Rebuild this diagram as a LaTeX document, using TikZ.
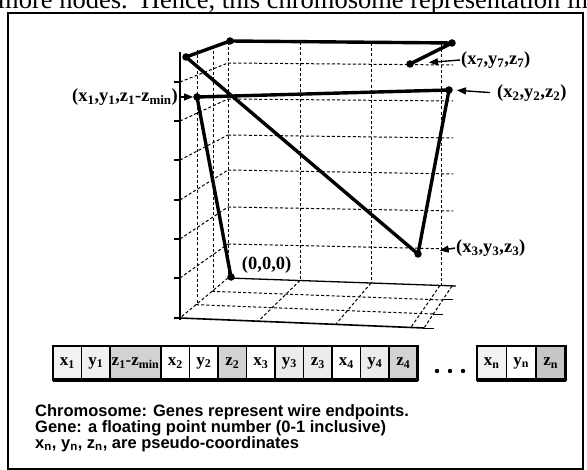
\documentclass[tikz,border=0pt]{standalone}
\usepackage{fontspec}
\setmainfont{Liberation Serif}
\setsansfont{Liberation Sans}
\usetikzlibrary{positioning,arrows.meta}

\begin{document}
\begin{tikzpicture}[x=1bp, y=-1bp,
  wire/.style={line width=3.4bp, line cap=round, line join=round},
  gridline/.style={line width=1bp, dash pattern=on 3bp off 2.2bp},
  dot/.style={circle, fill=black, inner sep=0pt, minimum size=7.5bp},
  pt/.style={font=\fontsize{18.5bp}{20bp}\selectfont\bfseries, inner sep=1bp},
  gene/.style={draw, line width=1.6bp, outer sep=0pt, inner sep=0pt, minimum width=28.5bp, minimum height=34bp, font=\fontsize{17bp}{18bp}\selectfont\bfseries},
  lbl/.style={-{Triangle[length=9bp,width=7bp]}, line width=1.4bp},
  note/.style={anchor=base west, inner sep=0pt, font=\sffamily\bfseries\fontsize{16.5bp}{18bp}\selectfont}]
\useasboundingbox (0,0) rectangle (587,470);
\clip (0,0) rectangle (587,470);
\node[anchor=base west, inner sep=0pt, font=\fontsize{26.5bp}{28bp}\selectfont] (top) at (-2,9) {more nodes.\ \ Hence, this chromosome representation limit};
\draw[line width=2bp] (7.5,13) rectangle (583,468.5);

% box behind the wires
\foreach \x/\t/\b in {228/42/278, 300/42/280, 371/43/283, 441/44/285}
  \draw[gridline] (\x,\t) -- (\x,\b);
\foreach \y/\e in {63/65, 99/101, 135/138, 170/174, 207/211, 244/249}
  \draw[gridline] (228,\y) -- (453,\e);
\foreach \x/\t/\b in {197/50/304, 213/46/291}
  \draw[gridline] (\x,\t) -- (\x,\b);
\foreach \a/\b in {82/63, 121/99, 160/135, 200/170, 239/207, 278/244}
  \draw[gridline] (180,\a) -- (228,\b);
\draw[line width=1.3bp] (180,52) -- (180,320);
\foreach \y in {82,121,160,200,239,278,318}
  \draw[line width=1.3bp] (174,\y) -- (180,\y);
\draw[line width=1.3bp] (228,278) -- (456,286);
\draw[line width=1.6bp] (180,318) -- (424,328);
\draw[gridline] (228,278) -- (180,318);
\draw[gridline] (452,286) -- (424,328);
\foreach \v in {0.333,0.667}
  \draw[gridline] ({228-48*\v},{278+40*\v}) -- ({452-28*\v},{286+42*\v});
\foreach \u in {0.321,0.638,0.946}
  \draw[gridline] ({228+224*\u},{278+8*\u}) -- ({180+244*\u},{318+10*\u});
\foreach \v in {0.333,0.667,1}
  \draw[line width=1bp] ({452-28*\v},{286+42*\v}) -- ({462-28*\v},{286+42*\v});

\node[dot] (o) at (231,277) {};
\node[dot] (p1) at (197,97) {};
\node[dot] (p2) at (449,90) {};
\node[dot] (p3) at (418,254) {};
\node[dot] (p4) at (186,57) {};
\node[dot] (p5) at (230,41) {};
\node[dot] (p6) at (452,43) {};
\node[dot] (p7) at (410,64) {};
\draw[wire] (o.center) -- (p1.center) -- (p2.center) -- (p3.center) -- (p4.center)
  -- (p5.center) -- (p6.center) -- (p7.center);

\node[pt, anchor=east] (l1) at (179,97) {(x\textsubscript{1},y\textsubscript{1},z\textsubscript{1}-z\textsubscript{min})};
\node[pt, anchor=west] (l2) at (496,93) {(x\textsubscript{2},y\textsubscript{2},z\textsubscript{2})};
\node[pt, anchor=west] (l7) at (460,60) {(x\textsubscript{7},y\textsubscript{7},z\textsubscript{7})};
\node[pt, anchor=west] (l3) at (455,248) {(x\textsubscript{3},y\textsubscript{3},z\textsubscript{3})};
\node[pt, above right=0bp and 7bp of o] (lo) {(0,0,0)};
\draw[lbl] (l1.east) -- (p1.west);
\draw[lbl, shorten <=6bp, shorten >=4bp] (l2.west) -- (p2.east);
\draw[lbl, shorten >=15bp] (l7.west) -- (p7);
\draw[lbl, shorten >=18bp] (l3.west) -- (p3);

\node[gene, anchor=north west, fill=gray!10] (g1) at (53,346) {x\textsubscript{1}};
\node[gene, right=0bp of g1, fill=gray!12] (g2) {y\textsubscript{1}};
\node[gene, right=0bp of g2, fill=gray!35, minimum width=51bp] (g3) {z\textsubscript{1}-z\textsubscript{min}};
\node[gene, right=0bp of g3] (g4) {x\textsubscript{2}};
\node[gene, right=0bp of g4] (g5) {y\textsubscript{2}};
\node[gene, right=0bp of g5, fill=gray!35] (g6) {z\textsubscript{2}};
\node[gene, right=0bp of g6] (g7) {x\textsubscript{3}};
\node[gene, right=0bp of g7, fill=gray!15] (g8) {y\textsubscript{3}};
\node[gene, right=0bp of g8, fill=gray!15] (g9) {z\textsubscript{3}};
\node[gene, right=0bp of g9] (g10) {x\textsubscript{4}};
\node[gene, right=0bp of g10, fill=gray!15] (g11) {y\textsubscript{4}};
\node[gene, right=0bp of g11, fill=gray!35] (g12) {z\textsubscript{4}};
\node[gene, anchor=north west, minimum width=29.5bp, fill=gray!10] (gn1) at (477,346) {x\textsubscript{n}};
\node[gene, right=0bp of gn1, minimum width=29.5bp] (gn2) {y\textsubscript{n}};
\node[gene, right=0bp of gn2, minimum width=29.5bp, fill=gray!45] (gn3) {z\textsubscript{n}};
\draw[line width=2.4bp] (g1.north west) rectangle (g12.south east);
\draw[line width=3.2bp] (g1.south west) -- (g12.south east);
\draw[line width=2.4bp] (gn1.north west) rectangle (gn3.south east);
\draw[line width=3.2bp] (gn1.south west) -- (gn3.south east);
\foreach \x in {437,450,463}
  \fill (\x,371) circle (2.2bp);

\node[note] (n1) at (35,416) {Chromosome: Genes represent wire endpoints.};
\node[note] (n2) at (35,432) {Gene: a floating point number (0-1 inclusive)};
\node[note] (n3) at (35,448) {x\textsubscript{n}, y\textsubscript{n}, z\textsubscript{n}, are pseudo-coordinates};
\end{tikzpicture}
\end{document}
